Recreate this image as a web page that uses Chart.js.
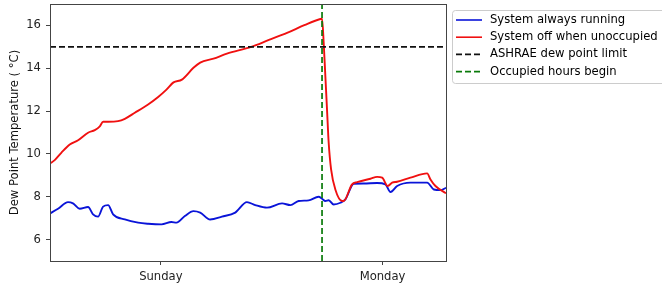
<!DOCTYPE html>
<html lang="en">
<head>
  <meta charset="UTF-8">
  <title>Dew point temperature</title>
  <script src="https://cdn.jsdelivr.net/npm/chart.js"></script>
  <style>
    html, body { margin: 0; padding: 0; background: #fff; }
    #wrap { position: relative; width: 662px; height: 287px; }
  </style>
</head>
<body>
  <div id="wrap"><canvas id="dew" width="662" height="287"></canvas></div>

  <script>
    // hours since Sunday 00:00
    const runHours = [0, 0.87, 1.95, 2.49, 3.22, 4.12, 4.66, 5.2, 5.75, 6.29, 6.83, 8.1, 9.54, 10.62, 12.07, 13.15, 13.69, 14.6, 15.53, 16.26, 17.34, 18.61, 20.05, 21.32, 22.22, 23.49, 25.12, 26.02, 26.92, 28.0, 29.08, 29.45, 29.81, 30.17, 30.71, 31.44, 31.98, 32.88, 33.96, 35.41, 36.31, 36.86, 37.58, 39.02, 40.83, 41.55, 42.28, 42.87];
    const runTemp  = [7.22, 7.44, 7.75, 7.69, 7.44, 7.52, 7.18, 7.07, 7.54, 7.61, 7.18, 6.94, 6.79, 6.74, 6.71, 6.82, 6.79, 7.1, 7.33, 7.26, 6.94, 7.07, 7.26, 7.75, 7.61, 7.49, 7.69, 7.61, 7.8, 7.83, 8.0, 7.91, 7.8, 7.84, 7.64, 7.72, 7.88, 8.61, 8.62, 8.64, 8.58, 8.22, 8.5, 8.66, 8.66, 8.34, 8.31, 8.42];

    const offHours = [0, 0.51, 1.22, 2.14, 3.04, 4.12, 4.85, 5.39, 5.75, 6.29, 7.37, 8.1, 9.18, 10.62, 11.71, 12.61, 13.37, 14.28, 15.53, 16.26, 17.7, 19.15, 21.79, 23.63, 25.66, 27.53, 29.27, 29.45, 29.63, 29.81, 29.99, 30.17, 30.43, 30.89, 31.62, 31.79, 32.7, 33.25, 34.69, 35.41, 35.96, 36.56, 37.04, 37.58, 39.02, 40.83, 41.19, 41.73, 42.87];
    const offTemp  = [9.55, 9.71, 10.05, 10.44, 10.64, 10.99, 11.11, 11.29, 11.5, 11.5, 11.53, 11.64, 11.92, 12.31, 12.66, 13.0, 13.34, 13.47, 14.02, 14.26, 14.45, 14.68, 15.0, 15.31, 15.65, 16.01, 16.3, 16.31, 15.18, 13.62, 12.07, 10.52, 9.28, 8.34, 7.8, 7.8, 8.58, 8.68, 8.84, 8.93, 8.89, 8.5, 8.66, 8.7, 8.89, 9.09, 8.81, 8.5, 8.16];

    const ashraeLimit = 15;
    const occupiedStart = 29.45;
    const xMin = 0, xMax = 42.87;
    const yMin = 5, yMax = 17;

    const xTickValues = [12, 36];
    const xTickLabels = ['Sunday', 'Monday'];
    const yTickValues = [6, 8, 10, 12, 14, 16];

    const FONT = 'DejaVu Sans';
    const FS = 11.6;

    const toPoints = (xs, ys) => xs.map((x, i) => ({ x, y: ys[i] }));

    const frame = {
      id: 'frame',
      afterDraw(chart) {
        const { ctx, chartArea: a } = chart;
        ctx.save();
        ctx.strokeStyle = '#444';
        ctx.lineWidth = 1;
        ctx.strokeRect(Math.round(a.left) + 0.5, Math.round(a.top) + 0.5,
                       Math.round(a.right - a.left), Math.round(a.bottom - a.top));

        // legend box
        const bx = 452.5, by = 10.5, bw = 220, bh = 73, r = 3;
        ctx.beginPath();
        ctx.moveTo(bx + r, by);
        ctx.lineTo(bx + bw - r, by);
        ctx.arcTo(bx + bw, by, bx + bw, by + r, r);
        ctx.lineTo(bx + bw, by + bh - r);
        ctx.arcTo(bx + bw, by + bh, bx + bw - r, by + bh, r);
        ctx.lineTo(bx + r, by + bh);
        ctx.arcTo(bx, by + bh, bx, by + bh - r, r);
        ctx.lineTo(bx, by + r);
        ctx.arcTo(bx, by, bx + r, by, r);
        ctx.closePath();
        ctx.fillStyle = 'rgba(255,255,255,0.8)';
        ctx.fill();
        ctx.strokeStyle = '#ccc';
        ctx.stroke();

        ctx.font = FS + 'px "' + FONT + '"';
        ctx.textBaseline = 'middle';
        ctx.textAlign = 'left';
        chart.data.datasets.forEach((ds, i) => {
          const y = 20 + i * 17.2;
          ctx.beginPath();
          ctx.setLineDash(ds.borderDash || []);
          ctx.strokeStyle = ds.borderColor;
          ctx.lineWidth = 1.6;
          ctx.moveTo(456, y);
          ctx.lineTo(482, y);
          ctx.stroke();
          ctx.setLineDash([]);
          ctx.fillStyle = '#000';
          ctx.fillText(ds.label, 490, y);
        });
        ctx.restore();
      }
    };

    new Chart(document.getElementById('dew'), {
      type: 'scatter',
      data: {
        datasets: [
          {
            label: 'System always running',
            data: toPoints(runHours, runTemp),
            showLine: true, borderColor: '#0a14d8', borderWidth: 1.9,
            pointRadius: 0, cubicInterpolationMode: 'monotone', order: 3
          },
          {
            label: 'System off when unoccupied',
            data: toPoints(offHours, offTemp),
            showLine: true, borderColor: '#f01010', borderWidth: 1.9,
            pointRadius: 0, cubicInterpolationMode: 'monotone', order: 2
          },
          {
            label: 'ASHRAE dew point limit',
            data: [{ x: xMin, y: ashraeLimit }, { x: xMax, y: ashraeLimit }],
            showLine: true, borderColor: '#111111', borderWidth: 1.6,
            borderDash: [6, 3], pointRadius: 0, order: 1
          },
          {
            label: 'Occupied hours begin',
            data: [{ x: occupiedStart, y: yMin }, { x: occupiedStart, y: yMax }],
            showLine: true, borderColor: '#0a7a0a', borderWidth: 1.7,
            borderDash: [6, 3], pointRadius: 0, order: 0
          }
        ]
      },
      options: {
        responsive: false,
        animation: false,
        layout: { padding: { top: 4, right: 216, left: 0, bottom: 0 } },
        plugins: { legend: { display: false }, tooltip: { enabled: false } },
        scales: {
          x: {
            type: 'linear', min: xMin, max: xMax,
            afterBuildTicks: axis => { axis.ticks = xTickValues.map(v => ({ value: v })); },
            afterFit: axis => { axis.height = 26; axis.paddingLeft = 0; axis.paddingRight = 0; },
            grid: { drawOnChartArea: false, drawTicks: true, tickLength: 4, color: '#444' },
            border: { display: false },
            ticks: {
              padding: 5, color: '#222', maxRotation: 0,
              font: { family: FONT, size: FS },
              callback: v => xTickLabels[xTickValues.indexOf(v)]
            }
          },
          y: {
            min: yMin, max: yMax,
            afterBuildTicks: axis => { axis.ticks = yTickValues.map(v => ({ value: v })); },
            afterFit: axis => { axis.width = 50; axis.paddingTop = 0; axis.paddingBottom = 0; },
            grid: { drawOnChartArea: false, drawTicks: true, tickLength: 4, color: '#444' },
            border: { display: false },
            ticks: { padding: 5, color: '#222', font: { family: FONT, size: FS } },
            title: {
              display: true, text: 'Dew Point Temperature ( °C)',
              color: '#111', font: { family: FONT, size: FS }, padding: { top: 8, bottom: 0 }
            }
          }
        }
      },
      plugins: [frame]
    });
  </script>
</body>
</html>
